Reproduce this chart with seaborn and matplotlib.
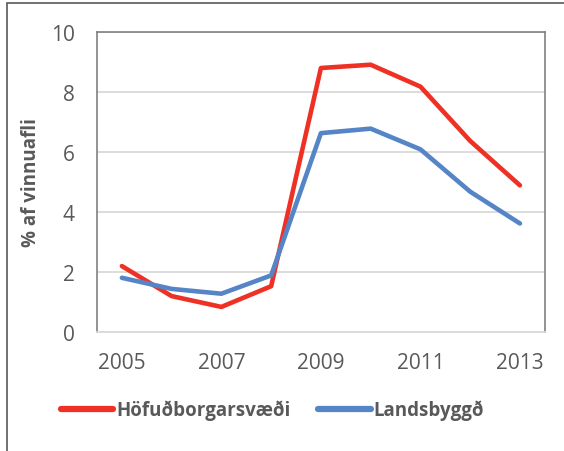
import matplotlib
matplotlib.use("Agg")
import matplotlib.pyplot as plt
import pandas as pd
import seaborn as sns
from matplotlib.patches import Rectangle

# Gögn lesin af myndinni
ar = [2005, 2006, 2007, 2008, 2009, 2010, 2011, 2012, 2013]
hofudborg = [2.2, 1.2, 0.84, 1.53, 8.8, 8.91, 8.18, 6.37, 4.89]
landsbyggd = [1.81, 1.44, 1.28, 1.89, 6.63, 6.78, 6.09, 4.68, 3.62]
flokkar = ["Höfuðborgarsvæði", "Landsbyggð"]
litir = ["#EE3124", "#5585C6"]
y_ticks = [0, 2, 4, 6, 8, 10]
x_ticks = [2005, 2007, 2009, 2011, 2013]

df = pd.DataFrame({
    "Ár": ar * 2,
    "Hlutfall": hofudborg + landsbyggd,
    "Svæði": [flokkar[0]] * len(ar) + [flokkar[1]] * len(ar),
})

sns.set_theme(style="white")
plt.rcParams["font.family"] = ["Open Sans", "DejaVu Sans"]

fig = plt.figure(figsize=(5.64, 4.52), dpi=100)
ax = fig.add_axes([0.172, 0.263, 0.794, 0.664])

sns.lineplot(data=df, x="Ár", y="Hlutfall", hue="Svæði", palette=litir,
             linewidth=3.3, ax=ax, legend=False)

ax.set_xlim(2004.5, 2013.5)
ax.set_ylim(0, 10)
ax.set_yticks(y_ticks)
ax.set_xticks(x_ticks)
ax.grid(axis="y", color="#D9D9D9", linewidth=1.3)
ax.set_axisbelow(True)
for s in ["left", "top", "right"]:
    ax.spines[s].set_color("#808080")
    ax.spines[s].set_linewidth(1.2)
ax.spines["bottom"].set_color("#D9D9D9")
ax.spines["bottom"].set_linewidth(1.3)
ax.tick_params(axis="both", length=0, labelsize=15, colors="#595959")
ax.tick_params(axis="y", pad=16)
ax.tick_params(axis="x", pad=14)

ax.set_xlabel("")
ax.set_ylabel("% af vinnuafli", fontsize=13.5, fontweight="bold", color="#595959", labelpad=7)

# Þjóðsaga undir myndinni
handles = [plt.Line2D([], [], color=c, linewidth=4.5, solid_capstyle="round") for c in litir]
fig.legend(handles, flokkar, loc="center", bbox_to_anchor=(0.483, 0.091), ncol=2,
           frameon=False, prop={"weight": "bold", "size": 13.5}, labelcolor="#595959",
           handlelength=2.8, handletextpad=0.15, columnspacing=1.5)

# Ytri rammi (skorinn af til hægri og niðri)
fig.patches.append(Rectangle((7 / 564, -0.1), 1.2, 1 - 4 / 452 + 0.1, transform=fig.transFigure,
                             fill=False, edgecolor="#595959", linewidth=1.2))

fig.savefig("out.png", dpi=100)
